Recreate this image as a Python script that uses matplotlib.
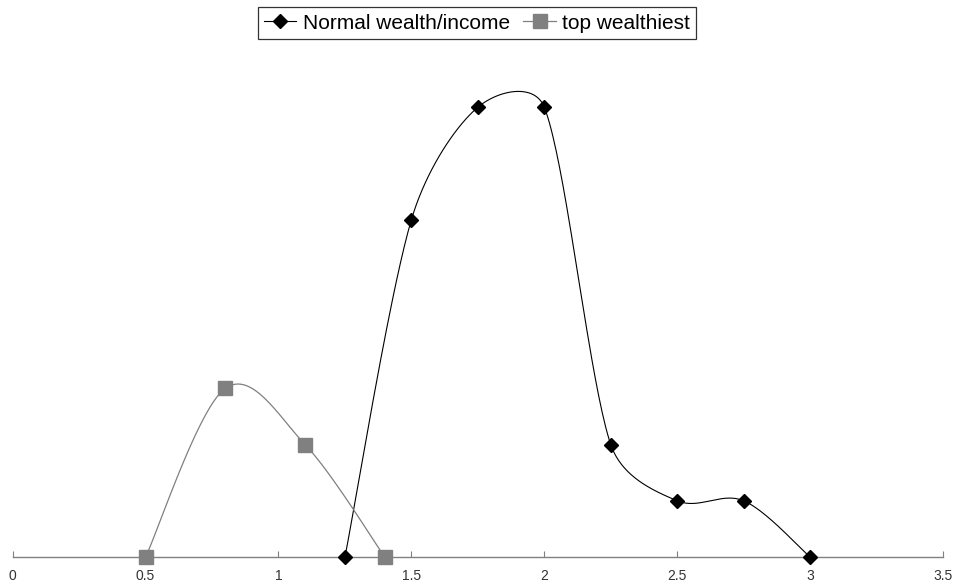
import numpy as np
import matplotlib.pyplot as plt

# data
normal_x = [1.25, 1.5, 1.75, 2.0, 2.25, 2.5, 2.75, 3.0]
normal_y = [0, 30, 40, 40, 10, 5, 5, 0]
top_x = [0.5, 0.8, 1.1, 1.4]
top_y = [0, 15, 10, 0]
x_ticks = [0, 0.5, 1, 1.5, 2, 2.5, 3, 3.5]
x_tick_labels = ["0", "0.5", "1", "1.5", "2", "2.5", "3", "3.5"]


def smooth(ax, xs, ys, steps=40, k=0.4):
    """Excel-like smoothed line: Bezier through the points, built in pixel space."""
    p = ax.transData.transform(np.column_stack([xs, ys]))
    n = len(p)
    out = [p[0]]
    t = np.linspace(0, 1, steps)[1:, None]

    def handle(a, b, seg_len):
        # control vector along the neighbour chord, limited by the segment length
        v = b - a
        L = np.hypot(*v)
        if L == 0:
            return v
        return v / L * min(k * seg_len, L / 6)

    for i in range(n - 1):
        p0 = p[i - 1] if i > 0 else p[i]
        p3 = p[i + 2] if i + 2 < n else p[i + 1]
        d12 = np.hypot(*(p[i + 1] - p[i]))
        c1 = p[i] + handle(p0, p[i + 1], d12)
        c2 = p[i + 1] - handle(p[i], p3, d12)
        seg = ((1 - t) ** 3 * p[i] + 3 * (1 - t) ** 2 * t * c1
               + 3 * (1 - t) * t ** 2 * c2 + t ** 3 * p[i + 1])
        out.extend(seg)
    out = ax.transData.inverted().transform(np.array(out))
    return out[:, 0], out[:, 1]


plt.rcParams['font.family'] = ['Liberation Sans', 'DejaVu Sans']

fig = plt.figure(figsize=(9.56, 5.85), dpi=100)
ax = fig.add_axes([12.7 / 956, 28 / 585, 930.3 / 956, (557 - 51) / 585])
ax.set_xlim(0, 3.5)
ax.set_ylim(0, 45)

sx, sy = smooth(ax, normal_x, normal_y)
ax.plot(sx, sy, color="black", lw=0.8, zorder=2)
ax.plot(normal_x, normal_y, linestyle="none", marker="D", ms=7.3,
        color="black", zorder=3, clip_on=False)

tx, ty = smooth(ax, top_x, top_y)
ax.plot(tx, ty, color="#808080", lw=0.9, zorder=2)
ax.plot(top_x, top_y, linestyle="none", marker="s", ms=10.5,
        color="#808080", zorder=3, clip_on=False)

# legend handles
h1, = ax.plot([], [], color="black", lw=0.8, marker="D", ms=7.3)
h2, = ax.plot([], [], color="#808080", lw=0.9, marker="s", ms=10.5)
leg = fig.legend([h1, h2], ["Normal wealth/income", "top wealthiest"],
                 loc="upper center", bbox_to_anchor=(477 / 956, 1 - 7 / 585),
                 borderaxespad=0, ncol=2, frameon=True, fancybox=False,
                 shadow=False, fontsize=15, handlelength=1.55,
                 columnspacing=0.65, handletextpad=0.3, borderpad=0.32)
leg.get_frame().set_edgecolor("black")
leg.get_frame().set_linewidth(0.9)

for side in ["top", "right", "left"]:
    ax.spines[side].set_visible(False)
ax.spines["bottom"].set_color("#808080")
ax.spines["bottom"].set_linewidth(1.0)
ax.set_yticks([])
ax.set_xticks(x_ticks)
ax.set_xticklabels(x_tick_labels, fontsize=10, color="#333333")
ax.tick_params(axis="x", direction="in", length=4, color="#808080", pad=9)

fig.savefig("out.png", dpi=100)
